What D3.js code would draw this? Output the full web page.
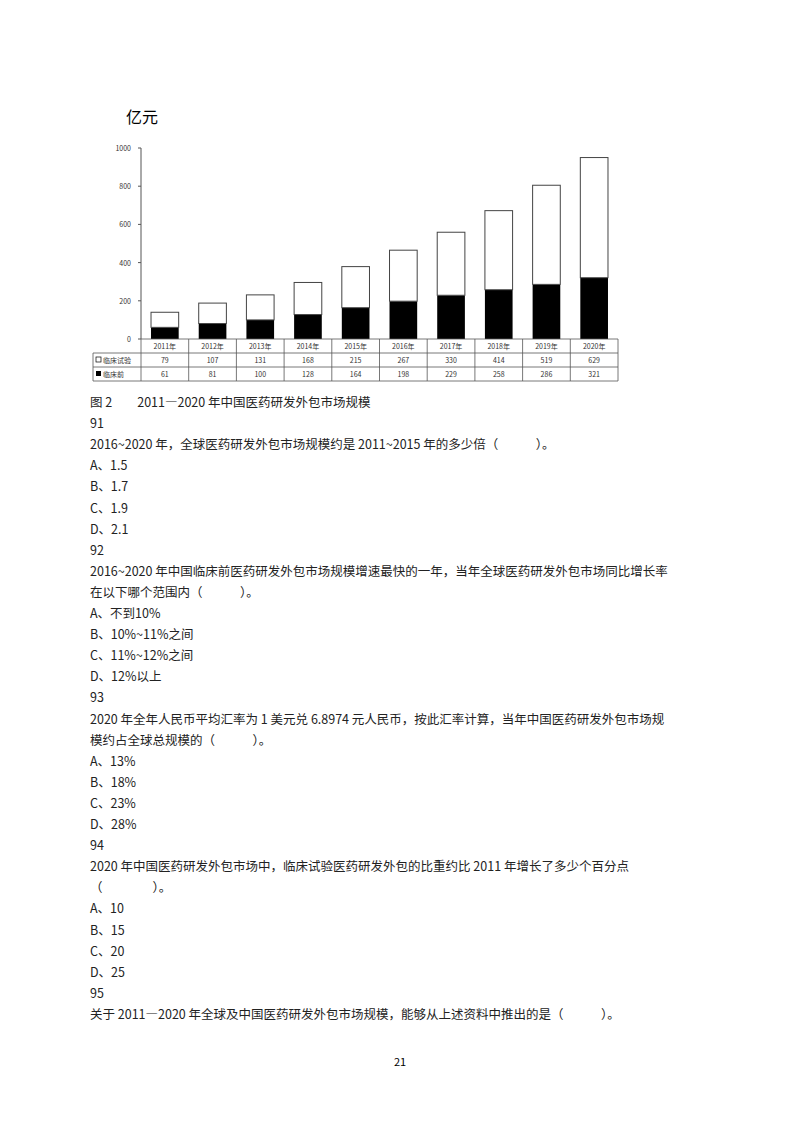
<!DOCTYPE html>
<html lang="zh">
<head>
<meta charset="utf-8">
<title>图2</title>
<script src="https://cdnjs.cloudflare.com/ajax/libs/d3/7.8.5/d3.min.js"></script>
<style>
body { margin: 0; background: #fff; }
text { font-family: "Noto Sans CJK SC", sans-serif; }
</style>
</head>
<body>
<script>
var years = ["2011年","2012年","2013年","2014年","2015年","2016年","2017年","2018年","2019年","2020年"];
var clinical = [79,107,131,168,215,267,330,414,519,629];
var preclinical = [61,81,100,128,164,198,229,258,286,321];
var yTicks = [0,200,400,600,800,1000];

var lines = [
  "图 2　　2011—2020 年中国医药研发外包市场规模",
  "91",
  "2016~2020 年，全球医药研发外包市场规模约是 2011~2015 年的多少倍（　　　）。",
  "A、1.5","B、1.7","C、1.9","D、2.1",
  "92",
  "2016~2020 年中国临床前医药研发外包市场规模增速最快的一年，当年全球医药研发外包市场同比增长率",
  "在以下哪个范围内（　　　）。",
  "A、不到10%","B、10%~11%之间","C、11%~12%之间","D、12%以上",
  "93",
  "2020 年全年人民币平均汇率为 1 美元兑 6.8974 元人民币，按此汇率计算，当年中国医药研发外包市场规",
  "模约占全球总规模的（　　　）。",
  "A、13%","B、18%","C、23%","D、28%",
  "94",
  "2020 年中国医药研发外包市场中，临床试验医药研发外包的比重约比 2011 年增长了多少个百分点",
  "（　　　　）。",
  "A、10","B、15","C、20","D、25",
  "95",
  "关于 2011—2020 年全球及中国医药研发外包市场规模，能够从上述资料中推出的是（　　　）。"
];

var svg = d3.select("body").append("svg").attr("width", 800).attr("height", 1132);

var axisX = 141, right = 618, tableLeft = 93;
var x = d3.scaleBand().domain(years).range([axisX, right]).paddingInner(0.42).paddingOuter(0.21);
var xCell = d3.scaleBand().domain(years).range([axisX, right]);
var y = d3.scaleLinear().domain([0, 1000]).range([339, 148]);

svg.append("text").attr("x", 126).attr("y", 123).attr("font-size", 16).text("亿元");

// y axis
svg.append("line").attr("x1", axisX).attr("x2", axisX).attr("y1", y(1000)).attr("y2", y(0)).attr("stroke", "#555");
svg.selectAll(".yt").data(yTicks).enter().append("line")
  .attr("x1", axisX - 3).attr("x2", axisX).attr("y1", d => y(d)).attr("y2", d => y(d)).attr("stroke", "#555");
svg.selectAll(".yl").data(yTicks).enter().append("text")
  .attr("x", axisX - 10).attr("y", d => y(d) + 3).attr("text-anchor", "end")
  .attr("font-size", 7).attr("fill", "#333").text(d => d);

// bars
svg.selectAll(".pre").data(years).enter().append("rect")
  .attr("x", d => x(d)).attr("width", x.bandwidth())
  .attr("y", (d, i) => y(preclinical[i])).attr("height", (d, i) => y(0) - y(preclinical[i]))
  .attr("fill", "#000");
svg.selectAll(".cli").data(years).enter().append("rect")
  .attr("x", d => x(d)).attr("width", x.bandwidth())
  .attr("y", (d, i) => y(preclinical[i] + clinical[i]))
  .attr("height", (d, i) => y(preclinical[i]) - y(preclinical[i] + clinical[i]))
  .attr("fill", "#fff").attr("stroke", "#444").attr("stroke-width", 1);

// table
var rowY = [339, 353, 367, 381];
var g = svg.append("g").attr("stroke", "#555").attr("stroke-width", 0.8);
g.append("line").attr("x1", axisX).attr("x2", right).attr("y1", rowY[0]).attr("y2", rowY[0]);
[1, 2, 3].forEach(function (r) {
  g.append("line").attr("x1", tableLeft).attr("x2", right).attr("y1", rowY[r]).attr("y2", rowY[r]);
});
g.append("line").attr("x1", tableLeft).attr("x2", tableLeft).attr("y1", rowY[1]).attr("y2", rowY[3]);
years.forEach(function (d) {
  g.append("line").attr("x1", xCell(d)).attr("x2", xCell(d)).attr("y1", rowY[0]).attr("y2", rowY[3]);
});
g.append("line").attr("x1", right).attr("x2", right).attr("y1", rowY[0]).attr("y2", rowY[3]);

svg.selectAll(".yr").data(years).enter().append("text")
  .attr("x", d => xCell(d) + xCell.bandwidth() / 2).attr("y", 349)
  .attr("text-anchor", "middle").attr("font-size", 7).attr("fill", "#333").text(d => d);
svg.selectAll(".cv").data(clinical).enter().append("text")
  .attr("x", (d, i) => xCell(years[i]) + xCell.bandwidth() / 2).attr("y", 363)
  .attr("text-anchor", "middle").attr("font-size", 7).attr("fill", "#333").text(d => d);
svg.selectAll(".pv").data(preclinical).enter().append("text")
  .attr("x", (d, i) => xCell(years[i]) + xCell.bandwidth() / 2).attr("y", 377)
  .attr("text-anchor", "middle").attr("font-size", 7).attr("fill", "#333").text(d => d);

svg.append("rect").attr("x", 96).attr("y", 357).attr("width", 5).attr("height", 5).attr("fill", "#fff").attr("stroke", "#000").attr("stroke-width", 0.7);
svg.append("text").attr("x", 103).attr("y", 363).attr("font-size", 7).attr("fill", "#333").text("临床试验");
svg.append("rect").attr("x", 96).attr("y", 371).attr("width", 5).attr("height", 5).attr("fill", "#000");
svg.append("text").attr("x", 103).attr("y", 377).attr("font-size", 7).attr("fill", "#333").text("临床前");

// text below
svg.selectAll(".ln").data(lines).enter().append("text")
  .attr("x", 90).attr("y", (d, i) => 407 + i * 21.1)
  .attr("font-size", 12.5).attr("fill", "#222").text(d => d);
svg.append("text").attr("x", 400).attr("y", 1066).attr("text-anchor", "middle")
  .attr("font-size", 11).text("21");
</script>
</body>
</html>
